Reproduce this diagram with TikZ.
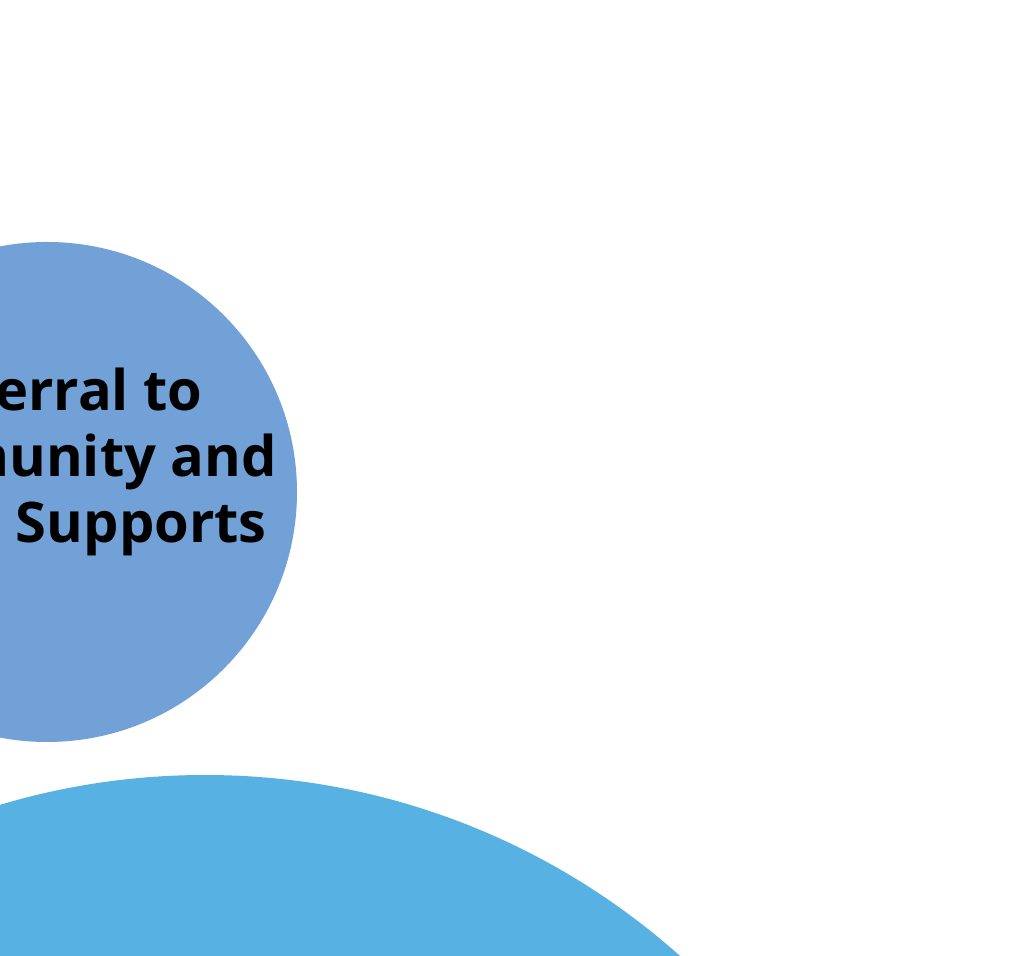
\documentclass[tikz,border=0pt]{standalone}
\usepackage{fontspec}
\setmainfont{Open Sans}
\definecolor{circA}{HTML}{71A1D6}
\definecolor{circB}{HTML}{58B1E3}
\tikzset{
  blob/.style={circle, inner sep=0pt, draw=none},
  label text/.style={font=\fontsize{28pt}{33pt}\selectfont\bfseries, text=black, align=center, inner sep=0pt}
}
\begin{document}
\begin{tikzpicture}[x=0.5pt,y=-0.5pt]
\useasboundingbox (0,0) rectangle (1024,956);
\clip (0,0) rectangle (1024,956);
\fill[white] (0,0) rectangle (1024,956);
\node[blob, fill=circA, minimum size=250pt] (top) at (47,492) {};
\node[blob, fill=circB, minimum size=714pt] (bottom) at (205,1489) {};
\node[label text, anchor=base] (txt) at (53,543) {Referral to\\Community and\\Social Supports};
\end{tikzpicture}
\end{document}
